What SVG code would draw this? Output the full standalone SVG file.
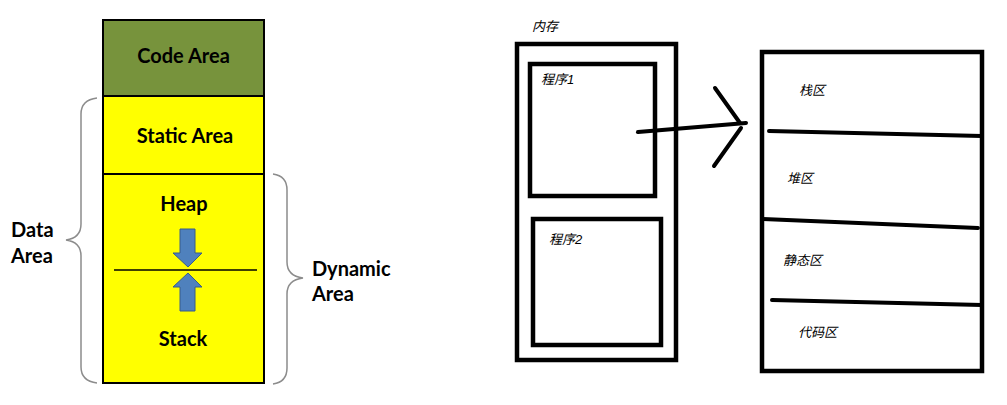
<svg xmlns="http://www.w3.org/2000/svg" width="1007" height="405" viewBox="0 0 1007 405">
<style>
.lbl{font-family:Lato,"Liberation Sans",sans-serif;font-weight:bold;font-size:20px;fill:#000}
.cn{font-family:"Liberation Sans","Noto Sans CJK SC",sans-serif;font-style:italic;font-size:13px;fill:#000}
.brace{fill:none;stroke:#8c8c8c;stroke-width:1.5}
.thick{fill:none;stroke:#000;stroke-width:4.5}
.pen{fill:none;stroke:#000;stroke-width:4;stroke-linecap:round}
.blue{fill:#4f81bd;stroke:#385d8a;stroke-width:1}
</style>
<rect width="1007" height="405" fill="#fff"/>
<g id="code-area">
<rect x="103" y="20" width="161" height="76" fill="#77933c" stroke="#000" stroke-width="2"/>
<text class="lbl" x="183.5" y="63" text-anchor="middle">Code Area</text>
</g>
<g id="static-area">
<rect x="103" y="96" width="161" height="78" fill="#ffff00" stroke="#000" stroke-width="2"/>
<text class="lbl" x="185" y="143" text-anchor="middle">Static Area</text>
</g>
<g id="dynamic-block">
<rect x="103" y="174" width="161" height="209" fill="#ffff00" stroke="#000" stroke-width="2"/>
<text class="lbl" x="184" y="211" text-anchor="middle">Heap</text>
<text class="lbl" x="183" y="346" text-anchor="middle">Stack</text>
<line x1="114" y1="270" x2="257" y2="270" stroke="#000" stroke-width="1.5"/>
<polygon class="blue" points="180,229 195,229 195,253 202,253 188,267 173,253 180,253"/>
<polygon class="blue" points="188,273 202,287 195,287 195,311 180,311 180,287 173,287"/>
</g>
<g id="data-area-brace">
<path class="brace" d="M97,98 Q81,100 81,114 L81,224 Q81,238 66,240 Q81,242 81,256 L81,367 Q81,381 97,383"/>
<text class="lbl" x="11" y="237">Data</text>
<text class="lbl" x="11" y="263">Area</text>
</g>
<g id="dynamic-area-brace">
<path class="brace" d="M273,174 Q287,176 287,190 L287,262 Q287,276 303,278 Q287,280 287,294 L287,368 Q287,382 273,384"/>
<text class="lbl" x="312" y="276">Dynamic</text>
<text class="lbl" x="312" y="301">Area</text>
</g>
<g id="memory">
<text class="cn" x="532" y="31">内存</text>
<rect class="thick" x="517" y="44" width="159" height="316"/>
</g>
<g id="program1">
<rect class="thick" x="530" y="64" width="125" height="132"/>
<text class="cn" x="541" y="84">程序1</text>
</g>
<g id="program2">
<rect class="thick" x="533" y="219" width="128" height="126"/>
<text class="cn" x="549" y="244">程序2</text>
</g>
<g id="connectors">
<path class="pen" d="M638,132 L746,123"/>
<path class="pen" d="M715,88 L740,123"/>
<path class="pen" d="M714,166 L741,128"/>
</g>
<g id="process-layout">
<rect class="thick" x="762" y="52" width="220" height="319"/>
<path class="pen" d="M769,131 L982,136"/>
<path class="pen" d="M763,219 L978,228"/>
<path class="pen" d="M772,300 L982,305"/>
<text class="cn" x="799" y="95">栈区</text>
<text class="cn" x="787" y="183">堆区</text>
<text class="cn" x="783" y="265">静态区</text>
<text class="cn" x="798" y="337">代码区</text>
</g>
</svg>
